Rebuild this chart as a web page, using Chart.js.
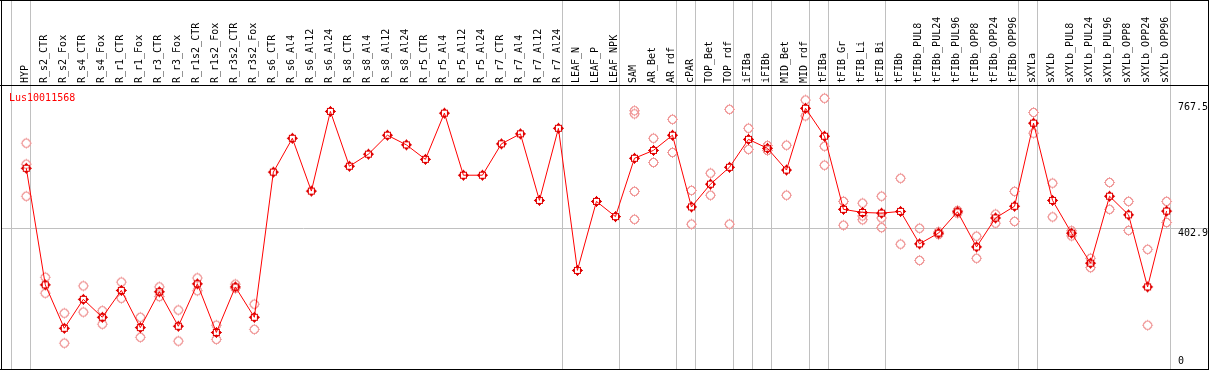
<!DOCTYPE html>
<html>
<head>
<meta charset="utf-8">
<script src="https://cdn.jsdelivr.net/npm/chart.js@4/dist/chart.umd.min.js"></script>
<style>
  html, body { margin: 0; padding: 0; background: #fff; }
  #wrap { width: 1209px; height: 370px; }
</style>
</head>
<body>
<div id="wrap"><canvas id="chart" width="1209" height="370"></canvas></div>
<script>
const geneName = "Lus10011568";

const categories = [
  "HYP", "R_s2_CTR", "R_s2_Fox", "R_s4_CTR", "R_s4_Fox", "R_r1_CTR", "R_r1_Fox",
  "R_r3_CTR", "R_r3_Fox", "R_r1s2_CTR", "R_r1s2_Fox", "R_r3s2_CTR", "R_r3s2_Fox",
  "R_s6_CTR", "R_s6_Al4", "R_s6_Al12", "R_s6_Al24", "R_s8_CTR", "R_s8_Al4", "R_s8_Al12",
  "R_s8_Al24", "R_r5_CTR", "R_r5_Al4", "R_r5_Al12", "R_r5_Al24", "R_r7_CTR", "R_r7_Al4",
  "R_r7_Al12", "R_r7_Al24", "LEAF_N", "LEAF_P", "LEAF_NPK", "SAM", "AR_Bet", "AR_rdf",
  "cPAR", "TOP_Bet", "TOP_rdf", "iFIBa", "iFIBb", "MID_Bet", "MID_rdf", "tFIBa",
  "tFIB_Gr", "tFIB_Li", "tFIB_Bi", "tFIBb", "tFIBb_PUL8", "tFIBb_PUL24", "tFIBb_PUL96",
  "tFIBb_OPP8", "tFIBb_OPP24", "tFIBb_OPP96", "sXYLa", "sXYLb", "sXYLb_PUL8",
  "sXYLb_PUL24", "sXYLb_PUL96", "sXYLb_OPP8", "sXYLb_OPP24", "sXYLb_OPP96"
];

// mean expression per sample
const meanValues = [
  576, 238, 112, 196, 144, 222, 114, 218, 118, 241, 100, 232, 144,
  565, 663, 510, 741, 582, 617, 672, 644, 602, 736, 556, 556, 647, 676, 483, 692,
  280, 480, 436, 605, 628, 672, 464, 530, 579, 660, 634, 571, 750, 669,
  457, 448, 446, 451, 357, 388, 450, 348, 432, 466, 707, 483, 388, 301, 495, 441, 232, 452
];

// individual replicates per sample
const replicates = [
  [649, 588, 495], [260, 214], [156, 69], [235, 159], [163, 124], [246, 199], [144, 86],
  [232, 204], [165, 75], [258, 221], [121, 80], [240, 228], [182, 109],
  [], [], [], [], [], [], [], [], [], [], [], [], [], [], [], [],
  [], [], [],
  [743, 734, 509, 428], [663, 593], [718, 622], [512, 414], [562, 498], [747, 414],
  [692, 631], [642, 628], [643, 498], [774, 728], [779, 640, 585],
  [480, 480, 411], [475, 438, 427], [495, 432, 404], [547, 356],
  [402, 309], [392, 384], [454, 446], [379, 315], [443, 417], [509, 422],
  [738, 678], [533, 435], [395, 380], [315, 288], [535, 457], [480, 396], [341, 121], [480, 419]
];

// index of the last sample in each group (separators)
const groupEnds = [-1, 0, 28, 31, 34, 35, 37, 38, 39, 41, 42, 45, 52, 53, 60];

const yTicks = [0, 402.9, 767.5];

const FONT = "DejaVu Sans Mono";

// pixel-style ring with little ticks at the four sides
function makeMarker(color, r, half) {
  const c = document.createElement("canvas");
  c.width = 13; c.height = 13;
  const g = c.getContext("2d");
  g.fillStyle = color;
  for (let py = 0; py < 13; py++) {
    for (let px = 0; px < 13; px++) {
      const d = Math.hypot(px - 6, py - 6);
      if (Math.abs(d - r) <= half) g.fillRect(px, py, 1, 1);
    }
  }
  g.fillRect(6, 1, 1, 1);
  g.fillRect(6, 11, 1, 1);
  g.fillRect(1, 6, 1, 1);
  g.fillRect(11, 6, 1, 1);
  return c;
}

const mainMarker = makeMarker("#e00000", 3.6, 0.75);
const repMarker = makeMarker("#f09a9a", 4, 0.5);

const repPoints = [];
replicates.forEach((reps, i) => reps.forEach(v => repPoints.push({ x: i, y: v })));

const framePlugin = {
  id: "frame",
  beforeDatasetsDraw(chart) {
    const ctx = chart.ctx;
    const x = chart.scales.x;
    ctx.save();
    ctx.strokeStyle = "#c0c0c0";
    ctx.lineWidth = 1;
    groupEnds.forEach(g => {
      const px = Math.round(x.getPixelForValue(g + 0.2)) + 0.5;
      ctx.beginPath();
      ctx.moveTo(px, 0);
      ctx.lineTo(px, chart.height);
      ctx.stroke();
    });
    ctx.restore();
  },
  afterDraw(chart) {
    const ctx = chart.ctx;
    const a = chart.chartArea;
    const y = chart.scales.y;
    ctx.save();
    ctx.fillStyle = "#000";
    ctx.fillRect(0, 0, chart.width, 1);
    ctx.fillRect(0, a.top - 1, chart.width, 1);
    ctx.fillRect(0, chart.height - 1, chart.width, 1);
    ctx.fillRect(1, 0, 1, chart.height);
    ctx.fillRect(chart.width - 1, 0, 1, chart.height);

    ctx.font = "10px " + FONT;
    ctx.textBaseline = "top";
    ctx.textAlign = "left";
    ctx.fillStyle = "#000";
    yTicks.forEach(v => {
      const py = Math.min(y.getPixelForValue(v), a.bottom - 13);
      ctx.fillText(String(v), 1178, py);
    });

    ctx.fillStyle = "#ff0000";
    ctx.textBaseline = "middle";
    ctx.fillText(geneName, 9, a.top + 12);
    ctx.restore();
  }
};

const X_MIN = -1.279, X_MAX = 62.18;

function noPad(s) {
  s.paddingLeft = 0;
  s.paddingRight = 0;
}

new Chart(document.getElementById("chart"), {
  type: "line",
  data: {
    datasets: [
      {
        label: geneName,
        data: meanValues.map((v, i) => ({ x: i, y: v })),
        borderColor: "#ff0000",
        borderWidth: 1,
        pointStyle: mainMarker,
        tension: 0
      },
      {
        type: "scatter",
        label: "replicates",
        data: repPoints,
        showLine: false,
        pointStyle: repMarker
      }
    ]
  },
  options: {
    responsive: false,
    animation: false,
    events: [],
    layout: { autoPadding: false, padding: { left: 2, right: 1, bottom: 1, top: 0 } },
    plugins: { legend: { display: false }, tooltip: { enabled: false } },
    scales: {
      x: {
        type: "linear",
        position: "bottom",
        min: X_MIN,
        max: X_MAX,
        grid: { display: false, drawTicks: false },
        border: { display: false },
        ticks: { display: false },
        afterFit: s => { s.height = 0; noPad(s); }
      },
      xTop: {
        type: "linear",
        position: "top",
        min: X_MIN,
        max: X_MAX,
        afterBuildTicks: s => { s.ticks = categories.map((_, i) => ({ value: i })); },
        afterFit: s => { s.height = 86; noPad(s); },
        grid: { display: false, drawTicks: false },
        border: { display: false },
        ticks: {
          autoSkip: false,
          minRotation: 90,
          maxRotation: 90,
          padding: 3,
          labelOffset: 11,
          color: "#000",
          font: { family: FONT, size: 10 },
          callback: v => categories[v]
        }
      },
      y: {
        type: "linear",
        position: "left",
        min: -6,
        max: 814.7,
        afterBuildTicks: s => { s.ticks = yTicks.map(v => ({ value: v })); },
        afterFit: s => { s.width = 0; },
        border: { display: false },
        grid: {
          drawTicks: false,
          color: c => (c.tick && c.tick.value === 402.9 ? "#c0c0c0" : "rgba(0,0,0,0)")
        },
        ticks: { display: false }
      }
    }
  },
  plugins: [framePlugin]
});
</script>
</body>
</html>
